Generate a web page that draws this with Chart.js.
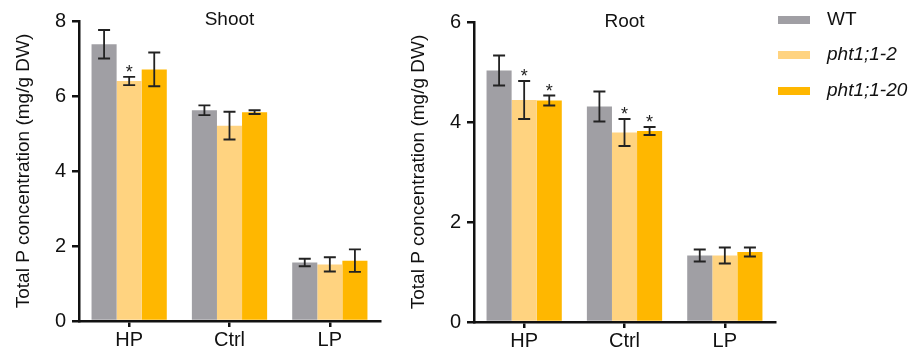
<!DOCTYPE html>
<html>
<head>
<meta charset="utf-8">
<script src="https://cdn.jsdelivr.net/npm/chart.js@4.4.1/dist/chart.umd.min.js"></script>
<style>
  body { margin: 0; background: #fff; }
  #wrap { position: relative; width: 912px; height: 356px; font-family: "Liberation Sans", Arial, sans-serif; }
  .cv { position: absolute; top: 0; width: 400px; height: 356px; }
  #legend { position: absolute; left: 778px; top: 0; }
  .row { position: absolute; left: 0; white-space: nowrap; font-size: 19px; color: #111; }
  .sw { position: absolute; left: 0; width: 32px; height: 8px; }
  .lbl { position: absolute; left: 49px; line-height: 20px; }
</style>
</head>
<body>
<div id="wrap">
  <div class="cv" style="left:0px"><canvas id="shootChart" width="400" height="356"></canvas></div>
  <div class="cv" style="left:395px"><canvas id="rootChart" width="400" height="356"></canvas></div>
  <div id="legend"></div>
</div>
<script>
// data
var categories = ["HP", "Ctrl", "LP"];
var seriesNames = ["WT", "pht1;1-2", "pht1;1-20"];
var seriesColors = ["#a09fa4", "#ffd380", "#ffb700"];

var shootWT = [7.38, 5.62, 1.56];
var shootWTErr = [0.38, 0.13, 0.10];
var shootP2 = [6.40, 5.21, 1.51];
var shootP2Err = [0.11, 0.37, 0.19];
var shootP20 = [6.71, 5.57, 1.61];
var shootP20Err = [0.45, 0.05, 0.30];
var shootSig = [[false, false, false], [true, false, false], [false, false, false]];

var rootWT = [5.03, 4.31, 1.33];
var rootWTErr = [0.30, 0.30, 0.12];
var rootP2 = [4.44, 3.79, 1.33];
var rootP2Err = [0.38, 0.27, 0.16];
var rootP20 = [4.43, 3.82, 1.40];
var rootP20Err = [0.10, 0.08, 0.09];
var rootSig = [[false, false, false], [true, true, false], [true, true, false]];

var FONT = "'Liberation Sans', Arial, sans-serif";

// error bars, stars and panel title
var extras = {
    id: 'extras',
    afterDatasetsDraw: function(chart, args, opts) {
        var ctx = chart.ctx;
        var y = chart.scales.y;
        ctx.save();
        chart.data.datasets.forEach(function(ds, i) {
            var meta = chart.getDatasetMeta(i);
            meta.data.forEach(function(bar, j) {
                var v = ds.data[j], e = ds.errors[j];
                var top = y.getPixelForValue(v + e);
                var bot = y.getPixelForValue(v - e);
                ctx.strokeStyle = '#222';
                ctx.lineWidth = 1.8;
                ctx.beginPath();
                ctx.moveTo(bar.x, top); ctx.lineTo(bar.x, bot);
                ctx.moveTo(bar.x - 6, top); ctx.lineTo(bar.x + 6, top);
                ctx.moveTo(bar.x - 6, bot); ctx.lineTo(bar.x + 6, bot);
                ctx.stroke();
                if (ds.sig[j]) {
                    ctx.fillStyle = '#222';
                    ctx.font = '18px ' + FONT;
                    ctx.textAlign = 'center';
                    ctx.textBaseline = 'alphabetic';
                    ctx.fillText('*', bar.x, top + 1);
                }
            });
        });
        var a = chart.chartArea;
        ctx.fillStyle = '#111';
        ctx.font = '19px ' + FONT;
        ctx.textAlign = 'center';
        ctx.textBaseline = 'middle';
        ctx.fillText(opts.text, (a.left + a.right) / 2, opts.y);
        ctx.restore();
    }
};

function makeChart(id, vals, errs, sig, yMax, title, titleY, padTop, xHeight) {
    var datasets = vals.map(function(d, i) {
        return {
            label: seriesNames[i],
            data: d,
            errors: errs[i],
            sig: sig[i],
            backgroundColor: seriesColors[i],
            borderWidth: 0,
            barPercentage: 1.0,
            categoryPercentage: 0.75
        };
    });
    return new Chart(document.getElementById(id), {
        type: 'bar',
        data: { labels: categories, datasets: datasets },
        options: {
            responsive: false,
            animation: false,
            layout: { padding: { left: 0, right: 20, top: padTop, bottom: 0 } },
            plugins: {
                legend: { display: false },
                tooltip: { enabled: false },
                extras: { text: title, y: titleY }
            },
            scales: {
                x: {
                    grid: { display: true, drawOnChartArea: false, offset: false, tickLength: 6, color: '#111', lineWidth: 2.5 },
                    border: { color: '#111', width: 2.5 },
                    ticks: { color: '#111', font: { family: FONT, size: 20 }, padding: 1 },
                    afterFit: function(s) { s.height = xHeight; }
                },
                y: {
                    min: 0, max: yMax,
                    grid: { display: true, drawOnChartArea: false, tickLength: 7, color: '#111', lineWidth: 2.5 },
                    border: { color: '#111', width: 2.5 },
                    ticks: { stepSize: 2, color: '#111', font: { family: FONT, size: 20 }, padding: 6 },
                    title: {
                        display: true,
                        text: 'Total P concentration (mg/g DW)',
                        color: '#111',
                        font: { family: FONT, size: 19 },
                        padding: { top: 12, bottom: 0 }
                    },
                    afterFit: function(s) { s.width = 79; }
                }
            }
        },
        plugins: [extras]
    });
}

makeChart('shootChart', [shootWT, shootP2, shootP20], [shootWTErr, shootP2Err, shootP20Err],
          shootSig, 8, 'Shoot', 20, 21, 35);
makeChart('rootChart', [rootWT, rootP2, rootP20], [rootWTErr, rootP2Err, rootP20Err],
          rootSig, 6, 'Root', 22, 22, 34);

// legend
var legend = document.getElementById('legend');
var rowY = [20, 55, 91];
seriesNames.forEach(function(name, i) {
    var row = document.createElement('div');
    row.className = 'row';
    row.style.top = rowY[i] + 'px';
    var sw = document.createElement('div');
    sw.className = 'sw';
    sw.style.top = '-4px';
    sw.style.background = seriesColors[i];
    var lbl = document.createElement('div');
    lbl.className = 'lbl';
    lbl.style.top = '-11px';
    if (i > 0) lbl.style.fontStyle = 'italic';
    lbl.textContent = name;
    row.appendChild(sw);
    row.appendChild(lbl);
    legend.appendChild(row);
});
</script>
</body>
</html>
